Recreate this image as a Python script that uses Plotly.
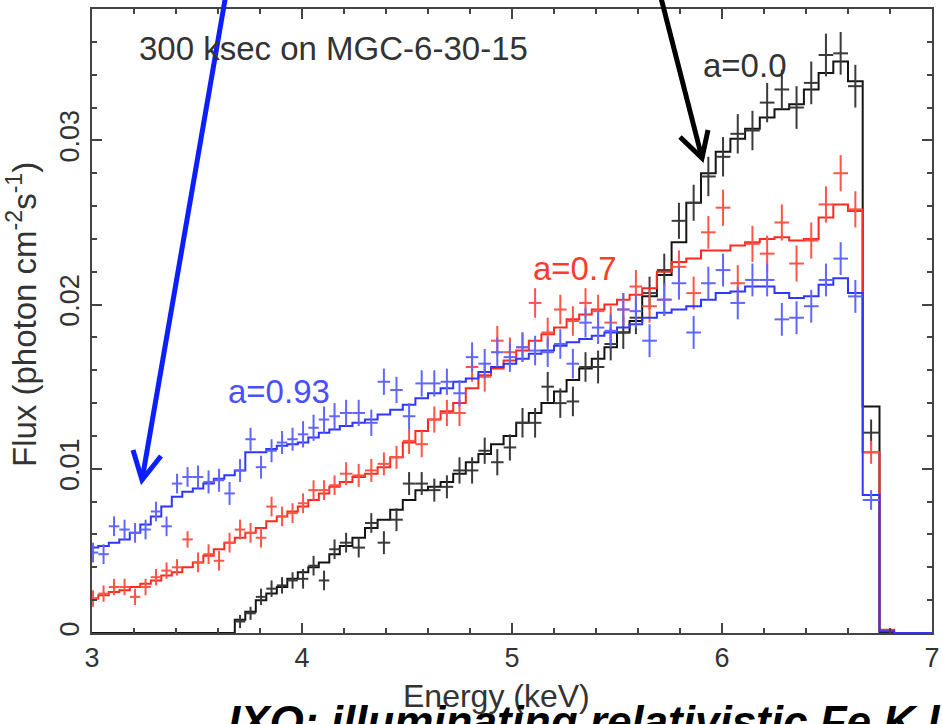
import plotly.graph_objects as go

# Energy bin edges (keV): model histograms use all bins, data crosses the first 64
EDGES = [2.98, 3.03, 3.08, 3.13, 3.18, 3.23, 3.28, 3.33, 3.38, 3.43,
         3.48, 3.53, 3.58, 3.63, 3.68, 3.73, 3.78, 3.83, 3.88, 3.93,
         3.98, 4.03, 4.08, 4.13, 4.18, 4.24, 4.30, 4.36, 4.42, 4.48,
         4.54, 4.60, 4.66, 4.72, 4.78, 4.84, 4.90, 4.96, 5.02, 5.08,
         5.14, 5.20, 5.26, 5.32, 5.38, 5.44, 5.50, 5.56, 5.62, 5.69,
         5.76, 5.83, 5.90, 5.97, 6.04, 6.11, 6.18, 6.25, 6.32, 6.39,
         6.46, 6.53, 6.60, 6.67, 6.75, 6.82, 7.00]

# Flux values in units of 1e-4 photon cm^-2 s^-1
FLUX_UNIT = 1e-4

BLACK_MODEL = [0, 0, 0, 0, 0, 0, 0, 0, 0, 0, 0, 0, 0, 0,
               8, 13, 20, 24, 28, 33, 37, 40, 43, 48,
               53, 58, 64, 69, 75, 81, 87, 89, 92, 97,
               104, 109, 115, 120, 128, 134, 140, 147, 154, 161,
               167, 174, 183, 190,
               205, 218, 238, 262, 280, 293, 301, 307, 314, 319,
               322, 331, 341, 348, 336,
               138, 0, 0]
RED_MODEL = [21, 23, 25, 26, 28, 30, 32, 35, 37, 40,
             43, 47, 51, 55, 58, 61, 64, 68, 71, 74,
             77, 81, 85, 89,
             92, 95, 97, 101, 107, 116, 123, 130, 135, 140,
             149, 157, 161, 166, 172, 178, 182, 186, 191, 194,
             197, 200, 203, 206,
             210, 220, 226, 228, 233, 233, 236, 238, 240, 241,
             239, 240, 253, 261, 257,
             110, 2, 0]
BLUE_MODEL = [52, 53, 55, 57, 61, 66, 71, 77, 83, 86,
              88, 91, 94, 96, 99, 110, 110, 112, 114, 115,
              116, 119, 122, 124,
              126, 128, 130, 133, 136, 139, 143, 146, 149, 153,
              155, 159, 162, 164, 167, 170, 172, 175, 177, 179,
              181, 183, 186, 188,
              192, 195, 197, 199, 203, 207, 208, 211, 211, 207,
              204, 205, 212, 216, 207,
              84, 1, 0]

N = None
BLACK_DATA = [N, N, N, N, N, N, N, N, N, N, N, N, N, N,
              7, 12, 22, 27, 29, 32, 33, 41, 32, 51,
              55, 52, 67, 55, 69, 91, 91, 87, 89, 99,
              99, 111, 104, 113, 128, 128, 150, 140, 141, 162,
              162, 176, 183, 192,
              207, 221, 251, 262, 278, 290, 304, 306, 323, 331,
              320, 335, 352, 353, 333,
              122]
RED_DATA = [21, 24, 28, 28, 22, 28, 34, 38, 40, 57,
            43, 48, 44, 55, 63, 61, 58, 77, 71, 73,
            79, 87, 87, 90,
            97, 96, 99, 103, 107, 117, 115, 130, 134, 134,
            162, 156, 178, 171, 174, 201, 183, 197, 190, 201,
            196, 189, 197, 211,
            199, 203, 223, 207, 244, 259, 213, 237, 231, 250,
            225, 239, 261, 280, 258,
            110]
BLUE_DATA = [49, 48, 65, 63, 61, 63, 74, 65, 91, 95,
             95, 92, 93, 85, 99, 118, 101, 111, 116, 118,
             121, 125, 130, 132,
             134, 134, 128, 153, 148, 132, 152, 152, 153, 146,
             168, 164, 171, 168, 174, 172, 171, 176, 164, 189,
             186, 184, 197, 196,
             178, 203, 213, 183, 213, 221, 201, 215, 215, 191,
             192, 199, 215, 228, 205,
             81]

BLACK_ERR = [0, 0, 0, 0, 0, 0, 0, 0, 0, 0, 0, 0, 0, 0,
             4, 4, 5, 5, 5, 5, 6, 6, 6, 6,
             6, 6, 6, 7, 7, 7, 7, 7, 7, 8,
             8, 8, 8, 8, 9, 9, 9, 9, 9, 9,
             10, 10, 10, 10,
             10, 10, 11, 11, 12, 12, 12, 12, 12, 12,
             13, 13, 13, 13, 13,
             8]
RED_ERR = [5, 5, 5, 5, 5, 5, 5, 5, 5, 5,
           6, 6, 6, 6, 6, 6, 6, 6, 6, 6,
           6, 6, 6, 6,
           7, 7, 7, 7, 7, 8, 8, 8, 8, 8,
           9, 9, 9, 9, 9, 9, 9, 9, 9, 9,
           10, 10, 10, 10,
           10, 10, 10, 10, 10, 11, 11, 11, 11, 11,
           11, 11, 11, 11, 11,
           7]
BLUE_ERR = [6, 6, 6, 6, 6, 6, 6, 6, 6, 6,
            7, 7, 7, 7, 7, 7, 7, 7, 7, 7,
            8, 8, 8, 8,
            8, 8, 8, 8, 8, 8, 8, 8, 8, 8,
            9, 9, 9, 9, 9, 9, 9, 9, 9, 9,
            10, 10, 10, 10,
            10, 10, 10, 10, 10, 10, 10, 10, 10, 10,
            10, 10, 10, 10, 10,
            6]

SERIES = [
    ("a=0.0", BLACK_MODEL, BLACK_DATA, BLACK_ERR, "#141414", "#3a3a3a"),
    ("a=0.7", RED_MODEL, RED_DATA, RED_ERR, "#ff2a1f", "#ff5547"),
    ("a=0.93", BLUE_MODEL, BLUE_DATA, BLUE_ERR, "#2f36ff", "#6166ff"),
]

FONT = "Liberation Sans, Arial, Helvetica, sans-serif"

fig = go.Figure()

for name, model, data, err, line_col, cross_col in SERIES:
    # stepped model spectrum
    step_y = [v * FLUX_UNIT for v in model] + [model[-1] * FLUX_UNIT]
    fig.add_trace(go.Scatter(
        x=EDGES, y=step_y, mode="lines", line_shape="hv",
        line=dict(color=line_col, width=2), showlegend=False, hoverinfo="skip"))
    # simulated data points with error crosses
    nd = len(data)
    xc = [(EDGES[i] + EDGES[i + 1]) / 2 for i in range(nd)]
    xh = [(EDGES[i + 1] - EDGES[i]) / 2 for i in range(nd)]
    yv = [None if d is None else d * FLUX_UNIT for d in data]
    ye = [e * FLUX_UNIT for e in err]
    fig.add_trace(go.Scatter(
        x=xc, y=yv, mode="markers",
        marker=dict(size=2, color=cross_col),
        error_x=dict(type="data", array=xh, width=0, thickness=2, color=cross_col),
        error_y=dict(type="data", array=ye, width=0, thickness=2, color=cross_col),
        showlegend=False, name=name))

L, R, T, B = 92, 10, 9, 91
W, H = 942, 724
PW, PH = W - L - R, H - T - B


def px(x):
    return (x - L) / PW


def py(y):
    return (H - B - y) / PH


axis_col = "#444444"
common = dict(showline=True, linecolor=axis_col, linewidth=2, mirror="allticks",
              ticks="inside", tickcolor=axis_col, tickwidth=1.5, ticklen=10,
              showgrid=False, zeroline=False, automargin=False,
              tickfont=dict(family=FONT, size=27, color="#333333"))

fig.update_xaxes(range=[3, 7], tickvals=[3, 4, 5, 6, 7],
                 minor=dict(ticks="inside", ticklen=5, tickwidth=1.5,
                            tickcolor=axis_col, dtick=0.2, tick0=3),
                 **common)
fig.update_yaxes(range=[0, 0.038], tickvals=[0, 0.01, 0.02, 0.03],
                 ticktext=["0", "0.01", "0.02", "0.03"], tickangle=-90,
                 minor=dict(ticks="inside", ticklen=5, tickwidth=1.5,
                            tickcolor=axis_col, dtick=0.002, tick0=0),
                 **common)

annotations = [
    dict(text="300 ksec on MGC-6-30-15", x=px(137), y=py(48), xanchor="left",
         yanchor="middle", font=dict(size=33, color="#333333")),
    dict(text="a=0.0", x=px(701), y=py(65), xanchor="left", yanchor="middle",
         font=dict(size=33, color="#333333")),
    dict(text="a=0.7", x=px(531), y=py(268), xanchor="left", yanchor="middle",
         font=dict(size=33, color="#ff3b2e")),
    dict(text="a=0.93", x=px(226), y=py(391), xanchor="left", yanchor="middle",
         font=dict(size=33, color="#4a4fff")),
    dict(text="Flux (photon cm<sup>-2</sup>s<sup>-1</sup>)", x=px(22), y=py(315),
         xanchor="center", yanchor="middle", textangle=-90,
         font=dict(size=33, color="#333333")),
    dict(text="Energy (keV)", x=px(496), y=py(696), xanchor="center",
         yanchor="middle", font=dict(size=32, color="#333333")),
    dict(text="<b><i>IXO: illuminating relativistic Fe K line</i></b>",
         x=px(226), y=py(695), xanchor="left", yanchor="top",
         font=dict(size=44, color="#000000")),
]
for a in annotations:
    a.update(xref="paper", yref="paper", showarrow=False)
    a["font"].setdefault("family", FONT)

# pointer arrows drawn as open V-headed strokes
arrows = [
    ("#0b1fff", (226, -6), (142, 480), (133, 450), (161, 456)),
    ("#000000", (660, -6), (702, 158), (680, 137), (708, 130)),
]
shapes = []
for col, start, tip, wl, wr in arrows:
    shapes.append(dict(type="path", xref="paper", yref="paper",
                       path=f"M {px(start[0])},{py(start[1])} L {px(tip[0])},{py(tip[1])}",
                       line=dict(color=col, width=5)))
    shapes.append(dict(type="path", xref="paper", yref="paper",
                       path=(f"M {px(wl[0])},{py(wl[1])} L {px(tip[0])},{py(tip[1])} "
                             f"L {px(wr[0])},{py(wr[1])}"),
                       line=dict(color=col, width=5)))

fig.update_layout(
    width=W, height=H, margin=dict(l=L, r=R, t=T, b=B, autoexpand=False),
    paper_bgcolor="white", plot_bgcolor="white",
    annotations=annotations, shapes=shapes,
    font=dict(family=FONT),
)

fig.write_html("out.html")
